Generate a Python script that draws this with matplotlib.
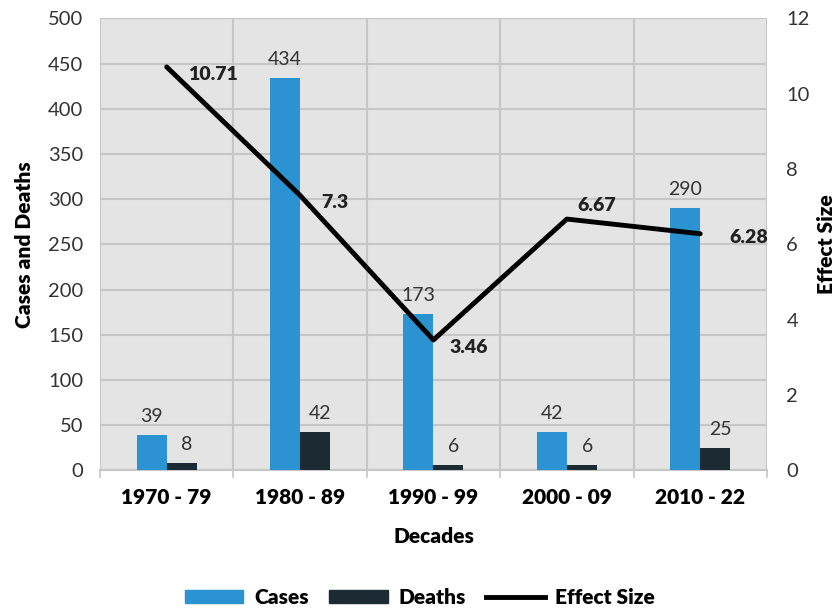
import numpy as np
import matplotlib.pyplot as plt
from matplotlib.patches import Patch
from matplotlib.lines import Line2D

decades = ['1970 - 79', '1980 - 89', '1990 - 99', '2000 - 09', '2010 - 22']
cases = [39, 434, 173, 42, 290]
deaths = [8, 42, 6, 6, 25]
effect = [10.71, 7.3, 3.46, 6.67, 6.28]

plt.rcParams['font.family'] = ['Lato', 'DejaVu Sans']

blue = '#2b93d1'
dark = '#1b2a33'
grid = '#c6c6c6'

fig = plt.figure(figsize=(8.4, 6.1), dpi=100)
ax = fig.add_axes([0.119, 0.229, 0.794, 0.741])
ax.set_facecolor('#e4e4e4')

x = np.arange(len(decades))
w = 0.225
ax.bar(x - w / 2, cases, w, color=blue, zorder=3)
ax.bar(x + w / 2, deaths, w, color=dark, zorder=3)

for xi, v in zip(x, cases):
    ax.text(xi - w / 2, v + 11, str(v), ha='center', va='bottom', fontsize=14, color='#333333', zorder=5)
for xi, v in zip(x, deaths):
    ax.text(xi + w / 2 + 0.04, v + 11, str(v), ha='center', va='bottom', fontsize=14, color='#333333', zorder=5)

ax.set_xlim(-0.5, len(decades) - 0.5)
ax.set_ylim(0, 500)
ax.set_yticks(np.arange(0, 501, 50))
ax.set_xticks(x)
ax.set_xticklabels(decades, fontsize=15, fontweight='heavy')
ax.set_xticks(np.arange(-0.5, len(decades), 1), minor=True)
ax.tick_params(axis='x', which='major', length=0, pad=13)
ax.tick_params(axis='x', which='minor', length=6, color=grid, width=1.2)
ax.tick_params(axis='y', length=0, labelsize=14.5, labelcolor='#333333', pad=12)
ax.grid(axis='y', color=grid, linewidth=1.5, zorder=1)
ax.grid(axis='x', which='minor', color=grid, linewidth=1.5, zorder=1)
for s in ['top', 'right', 'left']:
    ax.spines[s].set_visible(False)
ax.spines['bottom'].set_color(grid)
ax.spines['bottom'].set_linewidth(1.5)
ax.set_ylabel('Cases and Deaths', fontsize=15, fontweight='heavy', labelpad=10)
ax.set_xlabel('Decades', fontsize=15, fontweight='heavy', labelpad=14)

ax2 = ax.twinx()
ax2.set_ylim(0, 12)
ax2.set_yticks(np.arange(0, 13, 2))
ax2.tick_params(axis='y', length=0, labelsize=14.5, labelcolor='#333333', pad=14)
for s in ax2.spines.values():
    s.set_visible(False)
ax2.plot(x, effect, color='black', linewidth=3.5, solid_capstyle='round', zorder=4)
ax2.set_ylabel('Effect Size', fontsize=15, fontweight='heavy', labelpad=5)

offsets = [(0.16, -0.2), (0.16, -0.2), (0.12, -0.2), (0.08, 0.35), (0.22, -0.1)]
for xi, v, (dx, dy) in zip(x, effect, offsets):
    ax2.text(xi + dx, v + dy, f'{v:g}', ha='left', va='center', fontsize=14, fontweight='heavy', color='#222222', zorder=6)

handles = [Patch(color=blue, label='Cases'), Patch(color=dark, label='Deaths'),
           Line2D([0], [0], color='black', linewidth=3.5, label='Effect Size')]
fig.legend(handles=handles, loc='lower center', bbox_to_anchor=(0.5, -0.025), ncol=3, frameon=False,
           prop={'size': 15, 'weight': 'heavy'}, handlelength=2.8, handleheight=0.6, columnspacing=1.0,
           handletextpad=0.5)

fig.savefig('out.png', dpi=100)
